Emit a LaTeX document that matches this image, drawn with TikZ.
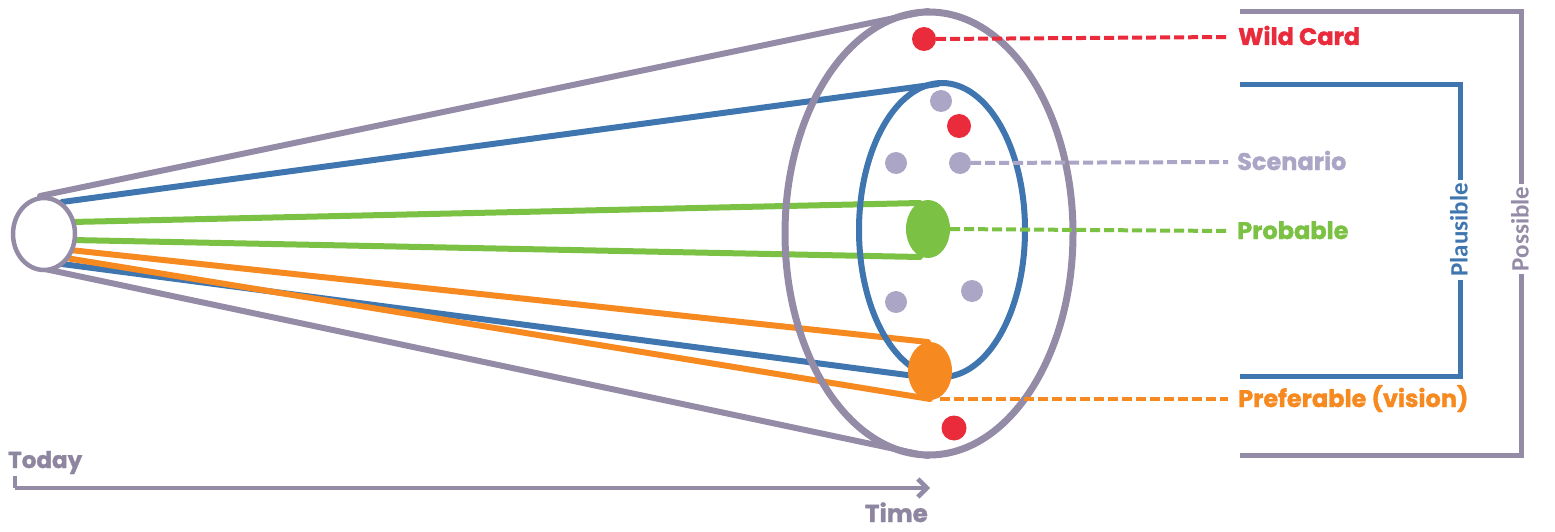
\documentclass[tikz,border=0pt]{standalone}
\usepackage{fontspec}
\setmainfont{Poppins}
\newfontfamily\heavy{Poppins Bold}[FakeBold=1.3]
\newfontfamily\calfont{Carlito}
\usetikzlibrary{shapes.geometric,arrows.meta}
\definecolor{cgray}{HTML}{948BA6}
\definecolor{cscen}{HTML}{ABA5C6}
\definecolor{ctext}{HTML}{8E86A0}
\definecolor{cblue}{HTML}{3F76AF}
\definecolor{cgreen}{HTML}{7BC143}
\definecolor{corange}{HTML}{F6891F}
\definecolor{cred}{HTML}{E92B3B}
\begin{document}
\begin{tikzpicture}[x=1pt,y=-1pt,
 cone/.style={line width=6pt, line cap=round},
 ell/.style={ellipse, inner sep=0pt},
 dot/.style={circle, inner sep=0pt, minimum size=#1},
 lead/.style={line width=4pt, dash pattern=on 10pt off 4pt},
 lab/.style={font=\heavy\fontsize{24}{26}\selectfont, anchor=base west, inner sep=0pt},
 brack/.style={line width=5pt},
 vlab/.style={font=\calfont\bfseries\fontsize{25}{27}\selectfont, rotate=90, fill=white, inner sep=3pt}
]
\useasboundingbox (0,0) rectangle (1555,532);
% cone lines
\coordinate (gA) at (40,196);  \coordinate (gB) at (928,11);
\coordinate (gC) at (40,268);  \coordinate (gD) at (928,456);
\coordinate (bA) at (62,202);  \coordinate (bB) at (938,84);
\coordinate (bC) at (62,264);  \coordinate (bD) at (930,378);
\coordinate (grA) at (72,222); \coordinate (grB) at (920,203);
\coordinate (grC) at (72,240); \coordinate (grD) at (920,257);
\coordinate (oA) at (70,250);  \coordinate (oB) at (928,342);
\coordinate (oC) at (66,258);  \coordinate (oD) at (930,399);
\draw[cone,cgray] (gA) -- (gB);
\draw[cone,cgray] (gC) -- (gD);
\draw[cone,cblue] (bA) -- (bB);
\draw[cone,cblue] (bC) -- (bD);
\draw[cone,cgreen] (grA) -- (grB);
\draw[cone,cgreen] (grC) -- (grD);
\draw[cone,corange] (oA) -- (oB);
\draw[cone,corange] (oC) -- (oD);
% ellipses
\node[ell, draw=cgray, line width=7pt, minimum width=288pt, minimum height=443pt] (outer) at (929,233.5) {};
\node[ell, draw=cblue, line width=6pt, minimum width=166pt, minimum height=294pt] (inner) at (942,230) {};
\node[ell, fill=cgreen, minimum width=44pt, minimum height=58pt] (prob) at (928,229) {};
\node[ell, fill=corange, minimum width=44pt, minimum height=58pt] (pref) at (930,371) {};
\node[ell, draw=cgray, fill=white, line width=4.5pt, minimum width=62pt, minimum height=72pt] (today) at (44,234) {};
% dots
\node[dot=24pt, fill=cred] (r1) at (924,39) {};
\node[dot=24pt, fill=cred] (r2) at (959,126) {};
\node[dot=25pt, fill=cred] (r3) at (954,428) {};
\node[dot=22pt, fill=cscen] (s1) at (941,101) {};
\node[dot=22pt, fill=cscen] (s2) at (896,163) {};
\node[dot=22pt, fill=cscen] (s3) at (960,163) {};
\node[dot=22pt, fill=cscen] (s4) at (896,302) {};
\node[dot=22pt, fill=cscen] (s5) at (972,291) {};
% labels
\node[lab, text=cred] (wild) at (1238,45) {Wild Card};
\node[lab, text=cscen] (scen) at (1237,170) {Scenario};
\node[lab, text=cgreen] (probl) at (1237,239) {Probable};
\node[lab, text=corange] (prefl) at (1238,407) {Preferable (vision)};
\coordinate (wE) at (1228,37);
\coordinate (sE) at (1228,162);
\coordinate (pE) at (1228,231);
\coordinate (fE) at (1228,399);
\coordinate (fS) at (940,399);
\draw[lead, cred] (r1.east) -- (wE);
\draw[lead, cscen] (s3.east) -- (sE);
\draw[lead, cgreen] (prob.east) -- (pE);
\draw[lead, corange] (fS) -- (fE);
% brackets
\coordinate (p1) at (1240,12); \coordinate (p2) at (1521,12);
\coordinate (p3) at (1521,455); \coordinate (p4) at (1240,455);
\draw[brack, cgray, line join=miter] (p1) -- (p2) -- (p3) -- (p4);
\node[vlab, text=cgray] (poss) at (1520,229) {Possible};
\coordinate (q1) at (1240,85); \coordinate (q2) at (1460,85);
\coordinate (q3) at (1460,376); \coordinate (q4) at (1240,376);
\draw[brack, cblue, line join=miter] (q1) -- (q2) -- (q3) -- (q4);
\node[vlab, text=cblue] (plaus) at (1459,230) {Plausible};
% time axis
\coordinate (t0) at (15,488); \coordinate (t1) at (930,488);
\coordinate (tk) at (15,476);
\draw[line width=4.5pt, cgray] (tk) -- (t0);
\draw[line width=4.5pt, cgray, -{Straight Barb[length=9pt,width=18pt,line width=4.5pt]}] (t0) -- (t1);
\node[font=\heavy\fontsize{23}{25}\selectfont, text=ctext, anchor=base west, inner sep=0pt] (todayl) at (8,468) {Today};
\node[font=\heavy\fontsize{24.5}{26}\selectfont, text=ctext, anchor=base east, inner sep=0pt] (timel) at (928,522) {Time};
\end{tikzpicture}
\end{document}
